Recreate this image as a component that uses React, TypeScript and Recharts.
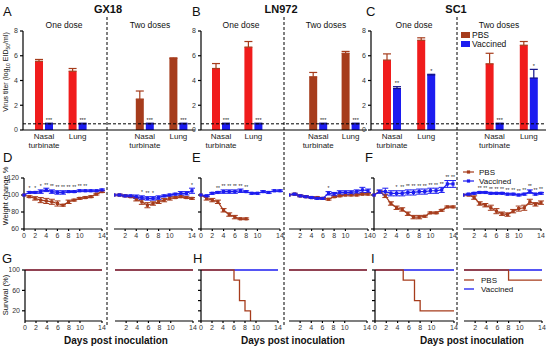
import React from "react";
import {
  BarChart,
  Bar,
  Cell,
  LineChart,
  Line,
  XAxis,
  YAxis,
  ErrorBar,
  ReferenceLine,
  LabelList,
} from "recharts";

const FONT = "Arial, 'Liberation Sans', sans-serif";
const RED = "#f01c1c";
const BROWN = "#a63c1c";
const BLUE = "#1c1cf0";
const AXIS = { stroke: "#000", strokeWidth: 1.2 };

// ---- virus titers (log10 EID50/ml) ----
const doses = ["One dose", "One dose", "", "Two doses", "Two doses"];
const tissues = ["Nasal turbinate", "Lung", "", "Nasal turbinate", "Lung"];

const gx18Pbs = [5.55, 4.75, null, 2.5, 5.78];
const gx18PbsErr = [0.15, 0.22, null, 0.65, 0.05];
const gx18Vac = [0.5, 0.5, null, 0.5, 0.5];
const gx18VacErr = [0.05, 0.05, null, 0.05, 0.05];
const gx18Sig = ["***", "***", "", "***", "***"];

const ln972Pbs = [4.97, 6.7, null, 4.3, 6.2];
const ln972PbsErr = [0.4, 0.45, null, 0.35, 0.15];
const ln972Vac = [0.5, 0.5, null, 0.5, 0.5];
const ln972VacErr = [0.05, 0.05, null, 0.05, 0.05];
const ln972Sig = ["***", "***", "", "***", "***"];

const sc1Pbs = [5.65, 7.25, null, 5.35, 6.85];
const sc1PbsErr = [0.5, 0.2, null, 0.85, 0.3];
const sc1Vac = [3.35, 4.45, null, 0.5, 4.2];
const sc1VacErr = [0.15, 0.05, null, 0.05, 0.7];
const sc1Sig = ["**", "*", "", "***", "*"];

// ---- weight change (%) by day ----
const days = [0, 1, 2, 3, 4, 5, 6, 7, 8, 9, 10, 11, 12, 13, 14];
const dayTicks = [0, 2, 4, 6, 8, 10, 12, 14];

const d1Pbs = [100, 98, 96, 94, 93, 92, 90, 88, 92, 94, 96, 97, 98, 101, 104];
const d1PbsErr = [0, 1, 2, 3, 3, 3, 3, 1, 2, 1, 1, 1, 1, 1, 1];
const d1Vac = [100, 103, 103, 104, 106, 104, 103, 103, 104, 104, 105, 105, 105, 105, 106];
const d1VacErr = [0, 1, 1, 2, 2, 2, 2, 2, 1, 1, 1, 1, 1, 1, 1];
const d1Sig = ["", "*", "*", "*", "**", "**", "**", "**", "**", "**", "**", "**", "", "", ""];

const d2Pbs = [100, 100, 99, 98, 95, 92, 88, 90, 92, 94, 96, 97, 98, 97, 96];
const d2PbsErr = [0, 1, 1, 1, 2, 3, 3, 2, 2, 2, 2, 1, 1, 1, 1];
const d2Vac = [100, 100, 99, 99, 98, 97, 96, 96, 97, 99, 100, 101, 102, 102, 105];
const d2VacErr = [0, 1, 1, 1, 2, 2, 2, 2, 2, 1, 1, 1, 2, 2, 3];
const d2Sig = ["", "", "", "", "", "*", "**", "*", "", "", "", "", "", "", "*"];

const e1Pbs = [100, 96, 94, 92, 82, 77, 74, 72, 72, null, null, null, null, null, null];
const e1PbsErr = [0, 2, 2, 2, 2, 2, 2, 1, 1, null, null, null, null, null, null];
const e1Vac = [100, 99, 102, 103, 104, 104, 104, 105, 104, 102, 102, 104, 103, 105, 105];
const e1VacErr = [0, 1, 1, 1, 2, 2, 2, 2, 1, 1, 1, 1, 1, 1, 1];
const e1Sig = ["", "", "", "**", "**", "**", "**", "**", "**", "", "", "", "", "", ""];

const e2Pbs = [100, 101, 99, 98, 97, 97, 96, 95, 98, 99, 100, 100, 100, 101, 101];
const e2PbsErr = [0, 1, 1, 1, 1, 1, 1, 1, 1, 1, 1, 1, 1, 1, 1];
const e2Vac = [100, 101, 99, 98, 97, 96, 96, 102, 101, 103, 103, 103, 104, 106, 105];
const e2VacErr = [0, 1, 1, 1, 1, 1, 1, 2, 2, 2, 2, 2, 2, 3, 2];
const e2Sig = ["", "", "", "", "", "", "", "*", "", "", "", "", "", "", ""];

const f1Pbs = [100, 104, 99, 90, 85, 83, 78, 74, 74, 75, 79, 79, 82, 86, 86];
const f1PbsErr = [0, 1, 2, 2, 2, 2, 2, 2, 2, 1, 1, 1, 1, 1, 1];
const f1Vac = [100, 104, 104, 102, 102, 102, 103, 103, 104, 104, 105, 105, 106, 113, 113];
const f1VacErr = [0, 2, 4, 3, 3, 3, 3, 3, 3, 3, 3, 3, 3, 4, 4];
const f1Sig = ["", "", "", "", "*", "**", "**", "**", "**", "**", "**", "**", "**", "**", "**"];

const f2Pbs = [100, 100, 97, 90, 88, 85, 81, 78, 77, 81, 84, 85, 92, 89, 91];
const f2PbsErr = [0, 1, 2, 2, 2, 3, 3, 2, 2, 2, 3, 3, 3, 2, 2];
const f2Vac = [100, 101, 102, 103, 103, 102, 102, 102, 101, 101, 100, 101, 104, 101, 102];
const f2VacErr = [0, 1, 1, 1, 1, 1, 1, 1, 1, 1, 1, 1, 2, 1, 1];
const f2Sig = ["", "", "", "**", "**", "**", "**", "**", "**", "**", "**", "**", "**", "**", "**"];

// ---- survival (%) by day ----
const allAlive = [100, 100, 100, 100, 100, 100, 100, 100, 100, 100, 100, 100, 100, 100, 100];
const h1Pbs = [100, 100, 100, 100, 100, 100, 80, 40, 20, 0, null, null, null, null, null];
const i1Pbs = [100, 100, 100, 100, 100, 80, 80, 40, 20, 20, 20, 20, 20, 20, 20];
const i2Pbs = [100, 100, 100, 100, 100, 100, 100, 100, 80, 80, 80, 80, 80, 80, 80];

type Box = { x0: number; x1: number; y0: number; y1: number };

const BAR = 8;
const GAP = 2;

// tissue names drawn under each bar pair (centre = pbs bar + half the pair)
const tissueLabel = (p: any) => {
  if (p.value == null || p.x == null) return null;
  const name = String(p.value).split("|")[1] || "";
  const cx = p.x + BAR + GAP / 2;
  const base = p.y + p.height + 9;
  return (
    <text key={String(p.value)} x={cx} y={base} textAnchor="middle" fontSize={8} fill="#222" fontFamily={FONT}>
      {name.split(" ").map((w, i) => (
        <tspan key={i} x={cx} dy={i === 0 ? 0 : 9}>
          {w}
        </tspan>
      ))}
    </text>
  );
};

function TiterChart(props: {
  box: Box;
  pbs: (number | null)[];
  pbsErr: (number | null)[];
  vac: (number | null)[];
  vacErr: (number | null)[];
  sig: string[];
  twoDoseColor: string;
}) {
  const { box, pbs, pbsErr, vac, vacErr, sig, twoDoseColor } = props;
  const YW = 16;
  const MT = 4;
  const XH = 24;
  const pxPerUnit = (box.y1 - box.y0) / 8;
  const data = tissues.map((t, i) => ({
    key: `${doses[i] || "gap"}|${t}`,
    pbs: pbs[i],
    pbsErr: [0, pbsErr[i] ?? 0],
    vac: vac[i],
    vacErr: [0, vacErr[i] ?? 0],
    sigTag: `${sig[i]}|${vacErr[i] ?? 0}`,
  }));
  const sigLabel = (p: any) => {
    if (p.value == null || p.x == null) return null;
    const [s, e] = String(p.value).split("|");
    if (!s) return null;
    return (
      <text key={`${p.x}`} x={p.x + p.width / 2} y={p.y - Number(e) * pxPerUnit - 1.5} textAnchor="middle" fontSize={5.5} fill="#222" fontFamily={FONT}>
        {s}
      </text>
    );
  };
  return (
    <div style={{ position: "absolute", left: box.x0 - YW, top: box.y0 - MT }}>
      <BarChart
        width={box.x1 - box.x0 + YW}
        height={box.y1 - box.y0 + MT + XH}
        data={data}
        margin={{ top: MT, right: 0, left: 0, bottom: 0 }}
        barSize={BAR}
        barGap={GAP}
      >
        <XAxis
          dataKey="key"
          interval={0}
          height={XH}
          tick={false}
          tickSize={2}
          axisLine={AXIS}
          tickLine={AXIS}
          padding={{ left: 4, right: 0 }}
        />
        <YAxis
          width={YW}
          domain={[0, 8]}
          ticks={[0, 2, 4, 6, 8]}
          tickSize={3}
          axisLine={AXIS}
          tickLine={AXIS}
          tick={{ fontSize: 7, fill: "#333", fontFamily: FONT }}
        />
        <Bar dataKey="pbs" isAnimationActive={false}>
          {data.map((d, i) => (
            <Cell key={i} fill={i < 2 ? RED : twoDoseColor} />
          ))}
          <ErrorBar dataKey="pbsErr" width={4} stroke={BROWN} strokeWidth={1.2} direction="y" />
          <LabelList dataKey="key" content={tissueLabel} />
        </Bar>
        <Bar dataKey="vac" fill={BLUE} isAnimationActive={false}>
          <ErrorBar dataKey="vacErr" width={4} stroke="#10108a" strokeWidth={1.2} direction="y" />
          <LabelList dataKey="sigTag" content={sigLabel} />
        </Bar>
        <ReferenceLine y={0.5} stroke="#000" strokeWidth={1} strokeDasharray="3 2" />
      </BarChart>
    </div>
  );
}

const squareDot = (color: string) => (p: any) => {
  if (p.cx == null || p.cy == null || p.value == null) return <g key={p.index} />;
  return <rect key={p.index} x={p.cx - 1.6} y={p.cy - 1.6} width={3.2} height={3.2} fill={color} />;
};

function WeightChart(props: {
  box: Box;
  yAxis: boolean;
  yLabels: boolean;
  pbs: (number | null)[];
  pbsErr: (number | null)[];
  vac: number[];
  vacErr: number[];
  sig: string[];
}) {
  const { box, yAxis, yLabels, pbs, pbsErr, vac, vacErr, sig } = props;
  const YW = yAxis ? 16 : 0;
  const MT = 10;
  const MR = 6;
  const XH = 14;
  const data = days.map((d, i) => ({
    day: d,
    pbs: pbs[i],
    pbsErr: pbsErr[i],
    vac: vac[i],
    vacErr: vacErr[i],
    sigTag: `${sig[i]}|${vacErr[i]}`,
  }));
  const pxPerUnit = (box.y1 - box.y0) / 60;
  const sigLabel = (p: any) => {
    if (p.value == null || p.x == null) return null;
    const [s, e] = String(p.value).split("|");
    if (!s) return null;
    return (
      <text key={`${p.x}`} x={p.x} y={p.y - Number(e) * pxPerUnit - 1.5} textAnchor="middle" fontSize={5} fill="#222" fontFamily={FONT}>
        {s}
      </text>
    );
  };
  return (
    <div style={{ position: "absolute", left: box.x0 - YW, top: box.y0 - MT }}>
      <LineChart
        width={box.x1 - box.x0 + YW + MR}
        height={box.y1 - box.y0 + MT + XH}
        data={data}
        margin={{ top: MT, right: MR, left: 0, bottom: 0 }}
      >
        <XAxis
          dataKey="day"
          type="number"
          domain={[0, 14]}
          ticks={dayTicks}
          height={XH}
          tickSize={2}
          axisLine={AXIS}
          tickLine={AXIS}
          tick={{ fontSize: 7, fill: "#333", fontFamily: FONT }}
        />
        <YAxis
          hide={!yAxis}
          width={YW}
          domain={[60, 120]}
          ticks={[60, 80, 100, 120]}
          allowDataOverflow
          tickSize={3}
          axisLine={AXIS}
          tickLine={AXIS}
          tickFormatter={yLabels ? undefined : () => ""}
          tick={{ fontSize: 7, fill: "#333", fontFamily: FONT }}
        />
        <Line dataKey="pbs" stroke={BROWN} strokeWidth={1.2} dot={squareDot(BROWN)} isAnimationActive={false}>
          <ErrorBar dataKey="pbsErr" width={3} stroke={BROWN} strokeWidth={1} direction="y" />
        </Line>
        <Line dataKey="vac" stroke={BLUE} strokeWidth={1.2} dot={squareDot(BLUE)} isAnimationActive={false}>
          <ErrorBar dataKey="vacErr" width={3} stroke={BLUE} strokeWidth={1} direction="y" />
          <LabelList dataKey="sigTag" content={sigLabel} />
        </Line>
      </LineChart>
    </div>
  );
}

function SurvivalChart(props: {
  box: Box;
  yAxis: boolean;
  yLabels: boolean;
  pbs: (number | null)[];
  vac: number[];
}) {
  const { box, yAxis, yLabels, pbs, vac } = props;
  const YW = yAxis ? 16 : 0;
  const MT = 4;
  const MR = 6;
  const XH = 14;
  const data = days.map((d, i) => ({ day: d, pbs: pbs[i], vac: vac[i] }));
  return (
    <div style={{ position: "absolute", left: box.x0 - YW, top: box.y0 - MT }}>
      <LineChart
        width={box.x1 - box.x0 + YW + MR}
        height={box.y1 - box.y0 + MT + XH}
        data={data}
        margin={{ top: MT, right: MR, left: 0, bottom: 0 }}
      >
        <XAxis
          dataKey="day"
          type="number"
          domain={[0, 14]}
          ticks={dayTicks}
          height={XH}
          tickSize={2}
          axisLine={AXIS}
          tickLine={AXIS}
          tick={{ fontSize: 7, fill: "#333", fontFamily: FONT }}
        />
        <YAxis
          hide={!yAxis}
          width={YW}
          domain={[0, 100]}
          ticks={[0, 20, 40, 60, 80, 100]}
          tickSize={3}
          axisLine={AXIS}
          tickLine={AXIS}
          tickFormatter={yLabels ? undefined : () => ""}
          tick={{ fontSize: 7, fill: "#333", fontFamily: FONT }}
        />
        <Line dataKey="vac" type="stepAfter" stroke={BLUE} strokeWidth={1.3} dot={false} isAnimationActive={false} />
        <Line dataKey="pbs" type="stepAfter" stroke={BROWN} strokeWidth={1.3} dot={false} isAnimationActive={false} />
      </LineChart>
    </div>
  );
}

const txt = { fontFamily: FONT, fill: "#111" } as const;

function Overlay() {
  return (
    <svg width={550} height={351} style={{ position: "absolute", left: 0, top: 0, pointerEvents: "none" }}>
      {[107, 284, 457].map((x) => (
        <line key={x} x1={x} x2={x} y1={17} y2={326} stroke="#000" strokeWidth={1} strokeDasharray="3 2" />
      ))}
      {[
        ["A", 3, 16],
        ["B", 192, 16],
        ["C", 366, 16],
        ["D", 3, 162],
        ["E", 192, 162],
        ["F", 365, 162],
        ["G", 2, 263],
        ["H", 193, 263],
        ["I", 371, 263],
      ].map(([l, x, y]) => (
        <text key={l as string} x={x as number} y={y as number} fontSize={13} {...txt}>
          {l}
        </text>
      ))}
      <text x={108} y={13} fontSize={11} fontWeight="bold" textAnchor="middle" {...txt}>GX18</text>
      <text x={281} y={13} fontSize={11} fontWeight="bold" textAnchor="middle" {...txt}>LN972</text>
      <text x={456} y={13} fontSize={11} fontWeight="bold" textAnchor="middle" {...txt}>SC1</text>
      {[
        ["One dose", 64],
        ["Two doses", 150],
        ["One dose", 241],
        ["Two doses", 326],
        ["One dose", 414],
        ["Two doses", 499],
      ].map(([t, x], i) => (
        <text key={i} x={x as number} y={28} fontSize={8.5} textAnchor="middle" {...txt}>
          {t}
        </text>
      ))}
      {[116, 293, 472].map((x) => (
        <text key={x} x={x} y={344} fontSize={10} fontWeight="bold" textAnchor="middle" {...txt}>
          Days post inoculation
        </text>
      ))}
      <text transform="translate(8,72) rotate(-90)" fontSize={7} textAnchor="middle" {...txt}>
        Virus titer (log
        <tspan fontSize={5} dy={1.5}>10</tspan>
        <tspan dy={-1.5}> EID</tspan>
        <tspan fontSize={5} dy={1.5}>50</tspan>
        <tspan dy={-1.5}>/ml)</tspan>
      </text>
      <text transform="translate(8,196) rotate(-90)" fontSize={7.5} textAnchor="middle" {...txt}>
        Weight change %
      </text>
      <text transform="translate(8,295) rotate(-90)" fontSize={7.5} textAnchor="middle" {...txt}>
        Survival (%)
      </text>

      {/* legend: virus titer */}
      <rect x={461} y={32} width={9} height={6} fill={BROWN} />
      <text x={472} y={38} fontSize={8.5} {...txt}>PBS</text>
      <rect x={461} y={41} width={9} height={6} fill={BLUE} />
      <text x={472} y={47} fontSize={8.5} {...txt}>Vaccined</text>

      {/* legend: weight */}
      <line x1={463} x2={474} y1={172} y2={172} stroke={BROWN} strokeWidth={1.2} />
      <rect x={466.9} y={170.4} width={3.2} height={3.2} fill={BROWN} />
      <text x={479} y={175} fontSize={8} {...txt}>PBS</text>
      <line x1={463} x2={474} y1={181} y2={181} stroke={BLUE} strokeWidth={1.2} />
      <rect x={466.9} y={179.4} width={3.2} height={3.2} fill={BLUE} />
      <text x={479} y={184} fontSize={8} {...txt}>Vaccined</text>

      {/* legend: survival */}
      <line x1={464} x2={474} y1={280} y2={280} stroke={BROWN} strokeWidth={1.3} />
      <text x={481} y={283} fontSize={8} {...txt}>PBS</text>
      <line x1={464} x2={474} y1={289} y2={289} stroke={BLUE} strokeWidth={1.3} />
      <text x={481} y={292} fontSize={8} {...txt}>Vaccined</text>
    </svg>
  );
}

export default function App() {
  return (
    <div style={{ position: "absolute", left: 0, top: 0, width: 550, height: 351, background: "#fff", fontFamily: FONT }}>
      <TiterChart box={{ x0: 23, x1: 195, y0: 31, y1: 130 }} pbs={gx18Pbs} pbsErr={gx18PbsErr} vac={gx18Vac} vacErr={gx18VacErr} sig={gx18Sig} twoDoseColor={BROWN} />
      <TiterChart box={{ x0: 201, x1: 367, y0: 31, y1: 130 }} pbs={ln972Pbs} pbsErr={ln972PbsErr} vac={ln972Vac} vacErr={ln972VacErr} sig={ln972Sig} twoDoseColor={BROWN} />
      <TiterChart box={{ x0: 371, x1: 546, y0: 31, y1: 130 }} pbs={sc1Pbs} pbsErr={sc1PbsErr} vac={sc1Vac} vacErr={sc1VacErr} sig={sc1Sig} twoDoseColor={RED} />

      <WeightChart box={{ x0: 24, x1: 102, y0: 178, y1: 229 }} yAxis yLabels pbs={d1Pbs} pbsErr={d1PbsErr} vac={d1Vac} vacErr={d1VacErr} sig={d1Sig} />
      <WeightChart box={{ x0: 114, x1: 192, y0: 178, y1: 229 }} yAxis={false} yLabels={false} pbs={d2Pbs} pbsErr={d2PbsErr} vac={d2Vac} vacErr={d2VacErr} sig={d2Sig} />
      <WeightChart box={{ x0: 201, x1: 280, y0: 178, y1: 229 }} yAxis yLabels={false} pbs={e1Pbs} pbsErr={e1PbsErr} vac={e1Vac} vacErr={e1VacErr} sig={e1Sig} />
      <WeightChart box={{ x0: 289, x1: 368, y0: 178, y1: 229 }} yAxis={false} yLabels={false} pbs={e2Pbs} pbsErr={e2PbsErr} vac={e2Vac} vacErr={e2VacErr} sig={e2Sig} />
      <WeightChart box={{ x0: 374, x1: 453, y0: 178, y1: 229 }} yAxis yLabels={false} pbs={f1Pbs} pbsErr={f1PbsErr} vac={f1Vac} vacErr={f1VacErr} sig={f1Sig} />
      <WeightChart box={{ x0: 463, x1: 541, y0: 178, y1: 229 }} yAxis={false} yLabels={false} pbs={f2Pbs} pbsErr={f2PbsErr} vac={f2Vac} vacErr={f2VacErr} sig={f2Sig} />

      <SurvivalChart box={{ x0: 25, x1: 102, y0: 270, y1: 321 }} yAxis yLabels pbs={allAlive} vac={allAlive} />
      <SurvivalChart box={{ x0: 115, x1: 193, y0: 270, y1: 321 }} yAxis={false} yLabels={false} pbs={allAlive} vac={allAlive} />
      <SurvivalChart box={{ x0: 201, x1: 278, y0: 270, y1: 321 }} yAxis yLabels={false} pbs={h1Pbs} vac={allAlive} />
      <SurvivalChart box={{ x0: 289, x1: 367, y0: 270, y1: 321 }} yAxis={false} yLabels={false} pbs={allAlive} vac={allAlive} />
      <SurvivalChart box={{ x0: 375, x1: 454, y0: 270, y1: 321 }} yAxis yLabels={false} pbs={i1Pbs} vac={allAlive} />
      <SurvivalChart box={{ x0: 464, x1: 542, y0: 270, y1: 321 }} yAxis={false} yLabels={false} pbs={i2Pbs} vac={allAlive} />

      <Overlay />
    </div>
  );
}
